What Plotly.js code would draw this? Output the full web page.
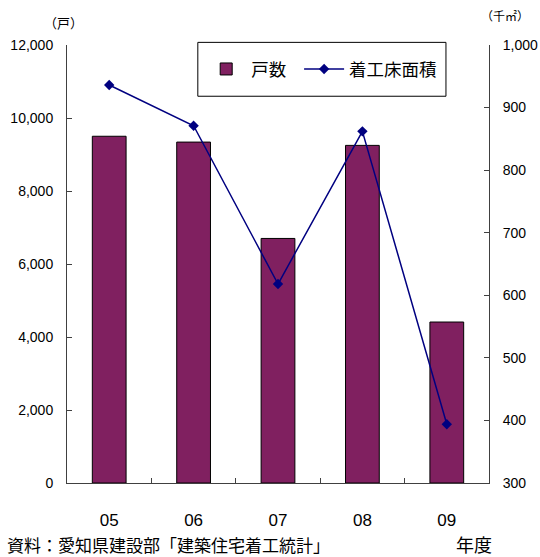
<!DOCTYPE html>
<html>
<head>
<meta charset="utf-8">
<script src="https://cdn.plot.ly/plotly-3.0.1.min.js"></script>
<style>
  html, body { margin: 0; padding: 0; background: #fff; }
  #chart { width: 540px; height: 557px; }
</style>
</head>
<body>
<div id="chart"></div>
<script>
// 年度 (fiscal years)
const years = ['05', '06', '07', '08', '09'];
// 着工戸数 (housing starts, units) — left axis
const units = [9500, 9340, 6700, 9250, 4410];
// 着工床面積 (floor area started, 1,000 m²) — right axis
const floorArea = [936, 871, 618, 862, 394];

const seriesNames = ['戸数', '着工床面積'];

const barTrace = {
  type: 'bar',
  name: seriesNames[0],
  x: years,
  y: units,
  legend: 'legend',
  marker: { color: '#802060', line: { color: '#000000', width: 1 } },
  hoverinfo: 'x+y'
};

const lineTrace = {
  type: 'scatter',
  mode: 'lines+markers',
  name: seriesNames[1],
  x: years,
  y: floorArea,
  yaxis: 'y2',
  legend: 'legend2',
  line: { color: '#000080', width: 1.5 },
  marker: { symbol: 'diamond', size: 8, color: '#000080' },
  hoverinfo: 'x+y'
};

const axisColor = '#404040';
const numFont = { family: 'Liberation Sans, Arial, sans-serif', size: 14, color: '#000' };
const jpFont = 'Noto Sans CJK JP, sans-serif';

// two legend entries share one framed box
const legendBase = {
  orientation: 'h',
  xanchor: 'left',
  y: 0.945, yanchor: 'middle',
  bgcolor: 'rgba(0,0,0,0)',
  borderwidth: 0,
  itemwidth: 40,
  font: { family: jpFont, size: 17.5, color: '#000' }
};

const layout = {
  width: 540,
  height: 557,
  margin: { l: 67, r: 51, t: 45, b: 73.5, pad: 0 },
  paper_bgcolor: '#ffffff',
  plot_bgcolor: '#ffffff',
  font: { family: 'Liberation Sans, Noto Sans CJK JP, sans-serif', color: '#000' },
  bargap: 0.6,
  showlegend: true,
  legend: Object.assign({}, legendBase, { x: 0.318 }),
  legend2: Object.assign({}, legendBase, { x: 0.55 }),
  xaxis: {
    type: 'category',
    showline: true, linecolor: axisColor, linewidth: 1,
    ticks: 'inside', ticklen: 5, tickcolor: axisColor, tickson: 'boundaries',
    showgrid: false, zeroline: false,
    tickfont: { family: 'Liberation Sans, Arial, sans-serif', size: 17, color: '#000' },
    ticklabelstandoff: 22
  },
  yaxis: {
    range: [0, 12000], dtick: 2000, tick0: 0,
    tickformat: ',d',
    showline: true, linecolor: axisColor, linewidth: 1,
    ticks: 'inside', ticklen: 5, tickcolor: axisColor,
    showgrid: false, zeroline: false,
    tickfont: numFont,
    ticklabelstandoff: 10
  },
  yaxis2: {
    range: [300, 1000], dtick: 100, tick0: 300,
    tickformat: ',d',
    overlaying: 'y', side: 'right',
    showline: true, linecolor: axisColor, linewidth: 1,
    ticks: 'inside', ticklen: 5, tickcolor: axisColor,
    showgrid: false, zeroline: false,
    tickfont: numFont,
    ticklabelstandoff: 10
  },
  shapes: [
    // legend frame
    { type: 'rect', xref: 'paper', yref: 'paper',
      x0: 0.31, x1: 0.898, y0: 0.883, y1: 1.006,
      line: { color: '#000', width: 1 }, fillcolor: 'rgba(0,0,0,0)', layer: 'below' }
  ],
  annotations: [
    { text: '（戸）', xref: 'paper', yref: 'paper', x: -0.008, y: 1.0515,
      xanchor: 'center', yanchor: 'middle', showarrow: false,
      font: { family: jpFont, size: 13, color: '#000' } },
    { text: '（千㎡）', xref: 'paper', yref: 'paper', x: 1.037, y: 1.067,
      xanchor: 'center', yanchor: 'middle', showarrow: false,
      font: { family: jpFont, size: 12, color: '#000' } },
    { text: '年度', xref: 'paper', yref: 'paper', x: 0.965, y: -0.14,
      xanchor: 'center', yanchor: 'middle', showarrow: false, height: 20,
      font: { family: jpFont, size: 18, color: '#000' } },
    { text: '資料：愛知県建設部「建築住宅着工統計」', xref: 'paper', yref: 'paper',
      x: -0.146, y: -0.14, xanchor: 'left', yanchor: 'middle', showarrow: false, height: 20,
      font: { family: jpFont, size: 17, color: '#000' } }
  ]
};

Plotly.newPlot('chart', [barTrace, lineTrace], layout, { displayModeBar: false, staticPlot: true });
</script>
</body>
</html>
